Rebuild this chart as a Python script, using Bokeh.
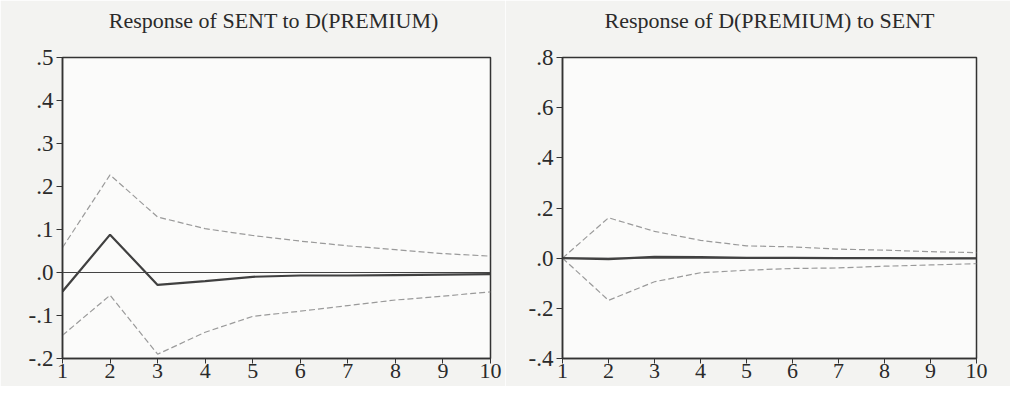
from bokeh.plotting import figure
from bokeh.layouts import row
from bokeh.models import FixedTicker, CustomJSTickFormatter, Range1d, Span, Title
from bokeh.embed import file_html
from bokeh.resources import INLINE

periods = [1, 2, 3, 4, 5, 6, 7, 8, 9, 10]

# Response of SENT to D(PREMIUM)
sent_resp = [-0.044, 0.088, -0.029, -0.020, -0.010, -0.007, -0.007, -0.006, -0.005, -0.004]
sent_upper = [0.058, 0.227, 0.129, 0.102, 0.086, 0.073, 0.062, 0.053, 0.044, 0.038]
sent_lower = [-0.146, -0.053, -0.190, -0.139, -0.102, -0.090, -0.077, -0.064, -0.055, -0.045]

# Response of D(PREMIUM) to SENT
prem_resp = [0.0, -0.004, 0.005, 0.004, 0.001, 0.001, 0.0, 0.0, -0.001, -0.001]
prem_upper = [0.0, 0.161, 0.107, 0.071, 0.049, 0.045, 0.036, 0.032, 0.026, 0.022]
prem_lower = [0.0, -0.168, -0.094, -0.058, -0.048, -0.041, -0.039, -0.032, -0.027, -0.022]

left_yticks = [-0.2, -0.1, 0.0, 0.1, 0.2, 0.3, 0.4, 0.5]
right_yticks = [-0.4, -0.2, 0.0, 0.2, 0.4, 0.6, 0.8]

FONT = "Liberation Serif"
fmt = CustomJSTickFormatter(code="var s = tick.toFixed(1); if (s === '-0.0') { s = '0.0'; } return s.replace('0.', '.');")


def make(title, resp, upper, lower, yticks, width, mb_left, mb_right):
    p = figure(width=width, height=386, output_backend="svg", toolbar_location=None,
               title=None,
               x_range=Range1d(1, 10), y_range=Range1d(yticks[0], yticks[-1]),
               min_border_left=mb_left, min_border_right=mb_right,
               min_border_top=56, min_border_bottom=28)
    # spacer between frame and title
    p.add_layout(Title(text=" ", text_font_size="7px", text_font=FONT), "above")
    p.add_layout(Title(text=title, align="center", text_font=FONT, text_font_size="22px",
                       text_font_style="normal", text_color="#2a2a2a"), "above")
    p.background_fill_color = "#fbfbfa"
    p.border_fill_color = "#f3f3f1"
    p.outline_line_color = "#333333"
    p.outline_line_width = 1.5
    p.xgrid.visible = False
    p.ygrid.visible = False
    for ax in (p.xaxis[0], p.yaxis[0]):
        ax.axis_line_color = "#333333"
        ax.axis_line_width = 1.5
        ax.major_tick_line_color = "#333333"
        ax.major_tick_out = 6
        ax.major_tick_in = 0
        ax.minor_tick_line_color = None
        ax.major_label_text_font = FONT
        ax.major_label_text_color = "#2a2a2a"
    p.xaxis.major_label_text_font_size = "22px"
    p.yaxis.major_label_text_font_size = "23px"
    p.xaxis.ticker = FixedTicker(ticks=periods)
    p.xaxis.major_label_standoff = 0
    p.xaxis.major_tick_out = 5
    p.yaxis.ticker = FixedTicker(ticks=yticks)
    p.yaxis.formatter = fmt
    p.yaxis.major_label_standoff = 3
    p.add_layout(Span(location=0, dimension="width", line_color="#444444", line_width=1))
    p.line(periods, upper, line_color="#9a9a9a", line_width=1.2, line_dash="6 3")
    p.line(periods, lower, line_color="#9a9a9a", line_width=1.2, line_dash="6 3")
    p.line(periods, resp, line_color="#404040", line_width=2.2)
    return p


p1 = make("Response of  SENT to D(PREMIUM)", sent_resp, sent_upper, sent_lower,
          left_yticks, 505, 62, 15)
p2 = make("Response of D(PREMIUM) to SENT", prem_resp, prem_upper, prem_lower,
          right_yticks, 505, 57, 34)

layout = row(p1, p2)
open("out.html", "w").write(file_html(layout, INLINE))
